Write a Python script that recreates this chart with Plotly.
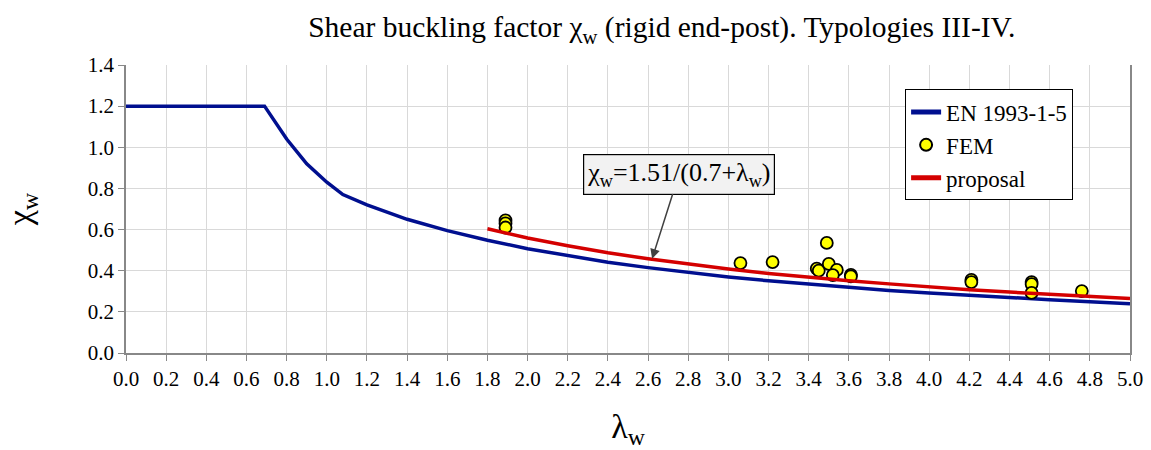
import plotly.graph_objects as go

# EN 1993-1-5 curve
en_x = [0.0, 0.69, 0.8, 0.9, 1.0, 1.08, 1.2, 1.4, 1.6, 1.8, 2.0, 2.2, 2.4, 2.6, 2.8,
        3.0, 3.2, 3.4, 3.6, 3.8, 4.0, 4.2, 4.4, 4.6, 4.8, 5.0]
en_y = [1.2, 1.2, 1.04, 0.92, 0.83, 0.77, 0.72, 0.65, 0.595, 0.548, 0.507, 0.472, 0.441,
        0.415, 0.391, 0.370, 0.351, 0.334, 0.319, 0.304, 0.292, 0.280, 0.269, 0.259,
        0.249, 0.240]

# proposal curve
prop_x = [1.8, 2.0, 2.2, 2.4, 2.6, 2.8, 3.0, 3.2, 3.4, 3.6, 3.8, 4.0, 4.2, 4.4, 4.6, 4.8, 5.0]
prop_y = [0.604, 0.559, 0.521, 0.487, 0.458, 0.431, 0.408, 0.387, 0.368, 0.351, 0.336,
          0.321, 0.308, 0.296, 0.285, 0.275, 0.265]

# FEM points
fem_x = [1.89, 1.89, 1.89, 3.06, 3.22, 3.44, 3.45, 3.49, 3.50, 3.54, 3.52, 3.61, 3.61,
         4.21, 4.21, 4.51, 4.51, 4.51, 4.76]
fem_y = [0.645, 0.630, 0.610, 0.437, 0.442, 0.410, 0.400, 0.535, 0.433, 0.404, 0.379,
         0.380, 0.372, 0.355, 0.345, 0.345, 0.335, 0.292, 0.301]

x_ticks = [round(i * 0.2, 1) for i in range(26)]
x_ticklabels = [f"{v:.1f}" for v in x_ticks]
y_ticks = [round(i * 0.2, 1) for i in range(8)]
y_ticklabels = [f"{v:.1f}" for v in y_ticks]

serif = "Liberation Serif, Times New Roman, serif"

fig = go.Figure()
fig.add_trace(go.Scatter(x=en_x, y=en_y, mode="lines", name="EN 1993-1-5",
                         line=dict(color="#000f8f", width=3.5)))
fig.add_trace(go.Scatter(x=fem_x, y=fem_y, mode="markers", name="FEM",
                         marker=dict(color="#ffff00", size=12,
                                     line=dict(color="black", width=1.8))))
fig.add_trace(go.Scatter(x=prop_x, y=prop_y, mode="lines", name="proposal",
                         line=dict(color="#d40000", width=3.5)))

fig.update_layout(
    width=1151, height=450,
    margin=dict(l=126, r=21, t=65, b=97),
    paper_bgcolor="white", plot_bgcolor="white",
    font=dict(family=serif, color="black", size=21),
    title=dict(text="Shear buckling factor χ<sub>w</sub> (rigid end-post). Typologies III-IV.",
               x=0.575, xanchor="center", y=0.94, yanchor="middle",
               font=dict(family=serif, size=29.5, color="black")),
    legend=dict(x=0.776, xanchor="left", y=0.915, yanchor="top",
                bgcolor="white", bordercolor="black", borderwidth=1,
                font=dict(family=serif, size=23, color="black"),
                tracegroupgap=0, itemsizing="constant"),
    showlegend=True,
)

fig.update_xaxes(range=[0, 5.0], tickvals=x_ticks, ticktext=x_ticklabels,
                 tickfont=dict(family=serif, size=21), automargin=False,
                 showgrid=True, gridcolor="#d9d9d9", gridwidth=1,
                 showline=True, linecolor="#888888", linewidth=1.5,
                 ticks="outside", ticklen=6, tickcolor="#888888",
                 zeroline=False,
                 title=dict(text="λ<sub>w</sub>", font=dict(family=serif, size=34),
                            standoff=32))
fig.update_yaxes(range=[0, 1.4], tickvals=y_ticks, ticktext=y_ticklabels,
                 tickfont=dict(family=serif, size=21), automargin=False,
                 showgrid=True, gridcolor="#d9d9d9", gridwidth=1,
                 showline=True, linecolor="#888888", linewidth=1.5, mirror=True,
                 ticks="outside", ticklen=6, tickcolor="#888888",
                 zeroline=False,
                 title=dict(text="χ<sub>w</sub>", font=dict(family=serif, size=34),
                            standoff=46))

fig.add_annotation(x=2.62, y=0.458, xref="x", yref="y",
                   ax=2.754, ay=0.87, axref="x", ayref="y",
                   text="χ<sub>w</sub>=1.51/(0.7+λ<sub>w</sub>)",
                   font=dict(family=serif, size=26, color="black"),
                   bgcolor="#f2f2f2", bordercolor="black", borderwidth=1.2, borderpad=3,
                   showarrow=True, arrowhead=2, arrowsize=1.3, arrowwidth=1.5,
                   arrowcolor="#404040")

fig.write_html("out.html")
